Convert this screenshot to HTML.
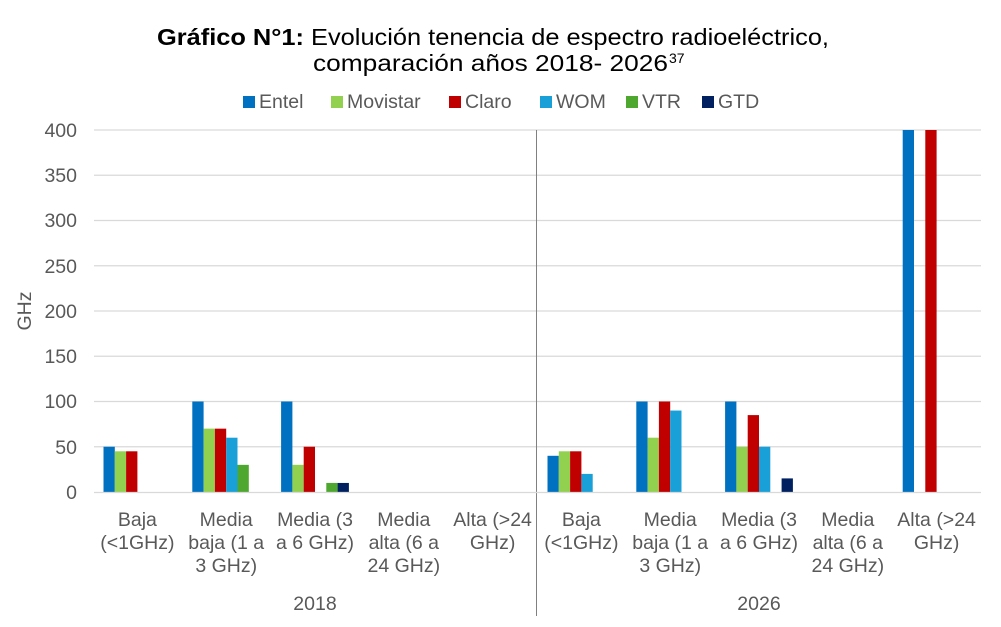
<!DOCTYPE html><html><head><meta charset="utf-8"><style>
body{margin:0;background:#fff;}
svg text{font-family:"Liberation Sans",Arial,sans-serif;}
</style></head><body>
<svg width="1001" height="622" viewBox="0 0 1001 622" xmlns="http://www.w3.org/2000/svg">
<rect width="1001" height="622" fill="#fff"/>
<text x="157" y="45" font-size="23.5" fill="#000" textLength="672" lengthAdjust="spacingAndGlyphs"><tspan font-weight="bold">Gráfico N°1:</tspan> Evolución tenencia de espectro radioeléctrico,</text>
<text x="313" y="71" font-size="23.5" fill="#000" textLength="355" lengthAdjust="spacingAndGlyphs">comparación años 2018- 2026</text>
<text x="669" y="63" font-size="14" fill="#000">37</text>
<g font-size="19.5" fill="#595959">
<rect x="243" y="96" width="12" height="12" fill="#0070C0"/><text x="259" y="108">Entel</text>
<rect x="331" y="96" width="12" height="12" fill="#92D050"/><text x="347" y="108">Movistar</text>
<rect x="449" y="96" width="12" height="12" fill="#C00000"/><text x="465" y="108">Claro</text>
<rect x="540" y="96" width="12" height="12" fill="#1AA0D8"/><text x="556" y="108">WOM</text>
<rect x="626" y="96" width="12" height="12" fill="#4EA72E"/><text x="642" y="108">VTR</text>
<rect x="702" y="96" width="12" height="12" fill="#002060"/><text x="718" y="108">GTD</text>
</g>
<g stroke="#d9d9d9" stroke-width="1.3">
<line x1="94" x2="981" y1="130" y2="130"/><line x1="94" x2="981" y1="175.25" y2="175.25"/>
<line x1="94" x2="981" y1="220.5" y2="220.5"/><line x1="94" x2="981" y1="265.75" y2="265.75"/>
<line x1="94" x2="981" y1="311" y2="311"/><line x1="94" x2="981" y1="356.25" y2="356.25"/>
<line x1="94" x2="981" y1="401.5" y2="401.5"/><line x1="94" x2="981" y1="446.75" y2="446.75"/>
</g>
<g font-size="19.5" fill="#595959" text-anchor="end">
<text x="77" y="137">400</text><text x="77" y="182">350</text><text x="77" y="227">300</text>
<text x="77" y="273">250</text><text x="77" y="318">200</text><text x="77" y="363">150</text>
<text x="77" y="408">100</text><text x="77" y="454">50</text><text x="77" y="499">0</text>
</g>
<text transform="translate(31,311) rotate(-90)" font-size="19.5" fill="#595959" text-anchor="middle">GHz</text>
<line x1="536.5" x2="536.5" y1="130" y2="616" stroke="#808080" stroke-width="1"/>
<g>
<rect x="103.5" y="446.75" width="11.3" height="45.25" fill="#0070C0"/>
<rect x="114.8" y="451.3" width="11.3" height="40.7" fill="#92D050"/>
<rect x="126.1" y="451.3" width="11.3" height="40.7" fill="#C00000"/>

<rect x="192.3" y="401.5" width="11.3" height="90.5" fill="#0070C0"/>
<rect x="203.6" y="428.65" width="11.3" height="63.35" fill="#92D050"/>
<rect x="214.9" y="428.65" width="11.3" height="63.35" fill="#C00000"/>
<rect x="226.2" y="437.7" width="11.3" height="54.3" fill="#1AA0D8"/>
<rect x="237.5" y="464.85" width="11.3" height="27.15" fill="#4EA72E"/>

<rect x="281.1" y="401.5" width="11.3" height="90.5" fill="#0070C0"/>
<rect x="292.4" y="464.85" width="11.3" height="27.15" fill="#92D050"/>
<rect x="303.7" y="446.75" width="11.3" height="45.25" fill="#C00000"/>
<rect x="326.3" y="482.95" width="11.3" height="9.05" fill="#4EA72E"/>
<rect x="337.6" y="482.95" width="11.3" height="9.05" fill="#002060"/>

<rect x="547.5" y="455.8" width="11.3" height="36.2" fill="#0070C0"/>
<rect x="558.8" y="451.3" width="11.3" height="40.7" fill="#92D050"/>
<rect x="570.1" y="451.3" width="11.3" height="40.7" fill="#C00000"/>
<rect x="581.4" y="473.9" width="11.3" height="18.1" fill="#1AA0D8"/>

<rect x="636.3" y="401.5" width="11.3" height="90.5" fill="#0070C0"/>
<rect x="647.6" y="437.7" width="11.3" height="54.3" fill="#92D050"/>
<rect x="658.9" y="401.5" width="11.3" height="90.5" fill="#C00000"/>
<rect x="670.2" y="410.55" width="11.3" height="81.45" fill="#1AA0D8"/>

<rect x="725.1" y="401.5" width="11.3" height="90.5" fill="#0070C0"/>
<rect x="736.4" y="446.75" width="11.3" height="45.25" fill="#92D050"/>
<rect x="747.7" y="415.1" width="11.3" height="76.9" fill="#C00000"/>
<rect x="759.0" y="446.75" width="11.3" height="45.25" fill="#1AA0D8"/>
<rect x="781.6" y="478.4" width="11.3" height="13.6" fill="#002060"/>

<rect x="902.7" y="130" width="11.3" height="362" fill="#0070C0"/>
<rect x="925.3" y="130" width="11.3" height="362" fill="#C00000"/>
</g>
<line x1="94" x2="981" y1="492.5" y2="492.5" stroke="#d9d9d9" stroke-width="1.3"/>
<g font-size="19.5" fill="#595959" text-anchor="middle">
<text x="137.4" y="526">Baja</text><text x="137.4" y="549">(&lt;1GHz)</text>
<text x="226.2" y="526">Media</text><text x="226.2" y="549">baja (1 a</text><text x="226.2" y="572">3 GHz)</text>
<text x="315" y="526">Media (3</text><text x="315" y="549">a 6 GHz)</text>
<text x="403.8" y="526">Media</text><text x="403.8" y="549">alta (6 a</text><text x="403.8" y="572">24 GHz)</text>
<text x="492.6" y="526">Alta (&gt;24</text><text x="492.6" y="549">GHz)</text>
<text x="581.4" y="526">Baja</text><text x="581.4" y="549">(&lt;1GHz)</text>
<text x="670.2" y="526">Media</text><text x="670.2" y="549">baja (1 a</text><text x="670.2" y="572">3 GHz)</text>
<text x="759" y="526">Media (3</text><text x="759" y="549">a 6 GHz)</text>
<text x="847.8" y="526">Media</text><text x="847.8" y="549">alta (6 a</text><text x="847.8" y="572">24 GHz)</text>
<text x="936.6" y="526">Alta (&gt;24</text><text x="936.6" y="549">GHz)</text>
<text x="315" y="610">2018</text>
<text x="759" y="610">2026</text>
</g>
</svg>
</body></html>
